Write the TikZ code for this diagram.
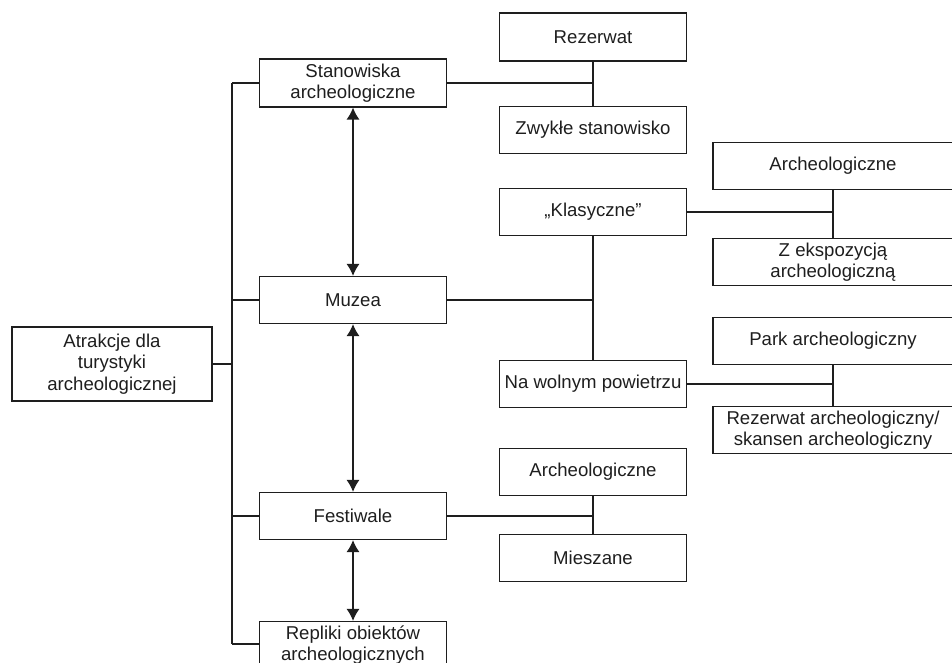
\documentclass[tikz,border=0pt]{standalone}
\usepackage{fontspec}
\setmainfont{Liberation Sans}
\usetikzlibrary{arrows.meta}
\definecolor{ink}{HTML}{1E1E1E}
\tikzset{
  box/.style={draw=ink, line width=1.2pt, minimum height=47pt, inner sep=0pt, align=center,
    font=\fontsize{18.6}{21.5}\selectfont, text=ink},
  wbox/.style={box, minimum width=187pt},
  rbox/.style={box, minimum width=240pt},
  conn/.style={draw=ink, line width=1.2pt},
  dbl/.style={conn, {Latex[length=12pt,width=13pt]}-{Latex[length=12pt,width=13pt]}},
}
\begin{document}
\begin{tikzpicture}[x=1pt,y=-1pt]
\useasboundingbox (0,0) rectangle (952,663);
\clip (0,0) rectangle (952,663);
% left column
\node[box, minimum width=200pt, minimum height=74pt] (root) at (112,364) {Atrakcje dla\\turystyki\\archeologicznej};
\node[wbox, minimum height=48pt] (stan) at (353,83) {Stanowiska\\archeologiczne};
\node[wbox] (muz) at (353,300) {Muzea};
\node[wbox] (fest) at (353,516) {Festiwale};
\node[wbox] (repl) at (353,645) {Repliki obiektów\\archeologicznych};
% middle column
\node[wbox, minimum height=48pt] (rez) at (593,37) {Rezerwat};
\node[wbox] (zwy) at (593,130) {Zwykłe stanowisko};
\node[wbox] (klas) at (593,212) {„Klasyczne”};
\node[wbox] (naw) at (593,384) {Na wolnym powietrzu};
\node[wbox] (farch) at (593,472) {Archeologiczne};
\node[wbox] (mies) at (593,558) {Mieszane};
% right column
\node[rbox] (arch1) at (833,166) {Archeologiczne};
\node[rbox] (zeks) at (833,262) {Z ekspozycją\\archeologiczną};
\node[rbox] (park) at (833,341) {Park archeologiczny};
\node[rbox] (rezarch) at (833,430) {Rezerwat archeologiczny/\\skansen archeologiczny};
% trunk
\coordinate (tt) at (232,83);
\coordinate (tb) at (232,644);
\draw[conn] (tt) -- (tb);
\draw[conn] (root.east) -- (root.east -| tt);
\draw[conn] (stan.west) -- (stan.west -| tt);
\draw[conn] (muz.west) -- (muz.west -| tt);
\draw[conn] (fest.west) -- (fest.west -| tt);
\draw[conn] (tb) -- (tb -| repl.west);
% middle branches
\draw[conn] (rez.south) -- (zwy.north);
\draw[conn] (stan.east) -- (stan.east -| rez.south);
\draw[conn] (klas.south) -- (naw.north);
\draw[conn] (muz.east) -- (muz.east -| klas.south);
\draw[conn] (farch.south) -- (mies.north);
\draw[conn] (fest.east) -- (fest.east -| farch.south);
% right branches
\draw[conn] (arch1.south) -- (zeks.north);
\draw[conn] (klas.east) -- (klas.east -| arch1.south);
\draw[conn] (park.south) -- (rezarch.north);
\draw[conn] (naw.east) -- (naw.east -| park.south);
% double arrows
\draw[dbl] (stan.south) -- (muz.north);
\draw[dbl] (muz.south) -- (fest.north);
\draw[dbl] (fest.south) -- (repl.north);
\end{tikzpicture}
\end{document}
